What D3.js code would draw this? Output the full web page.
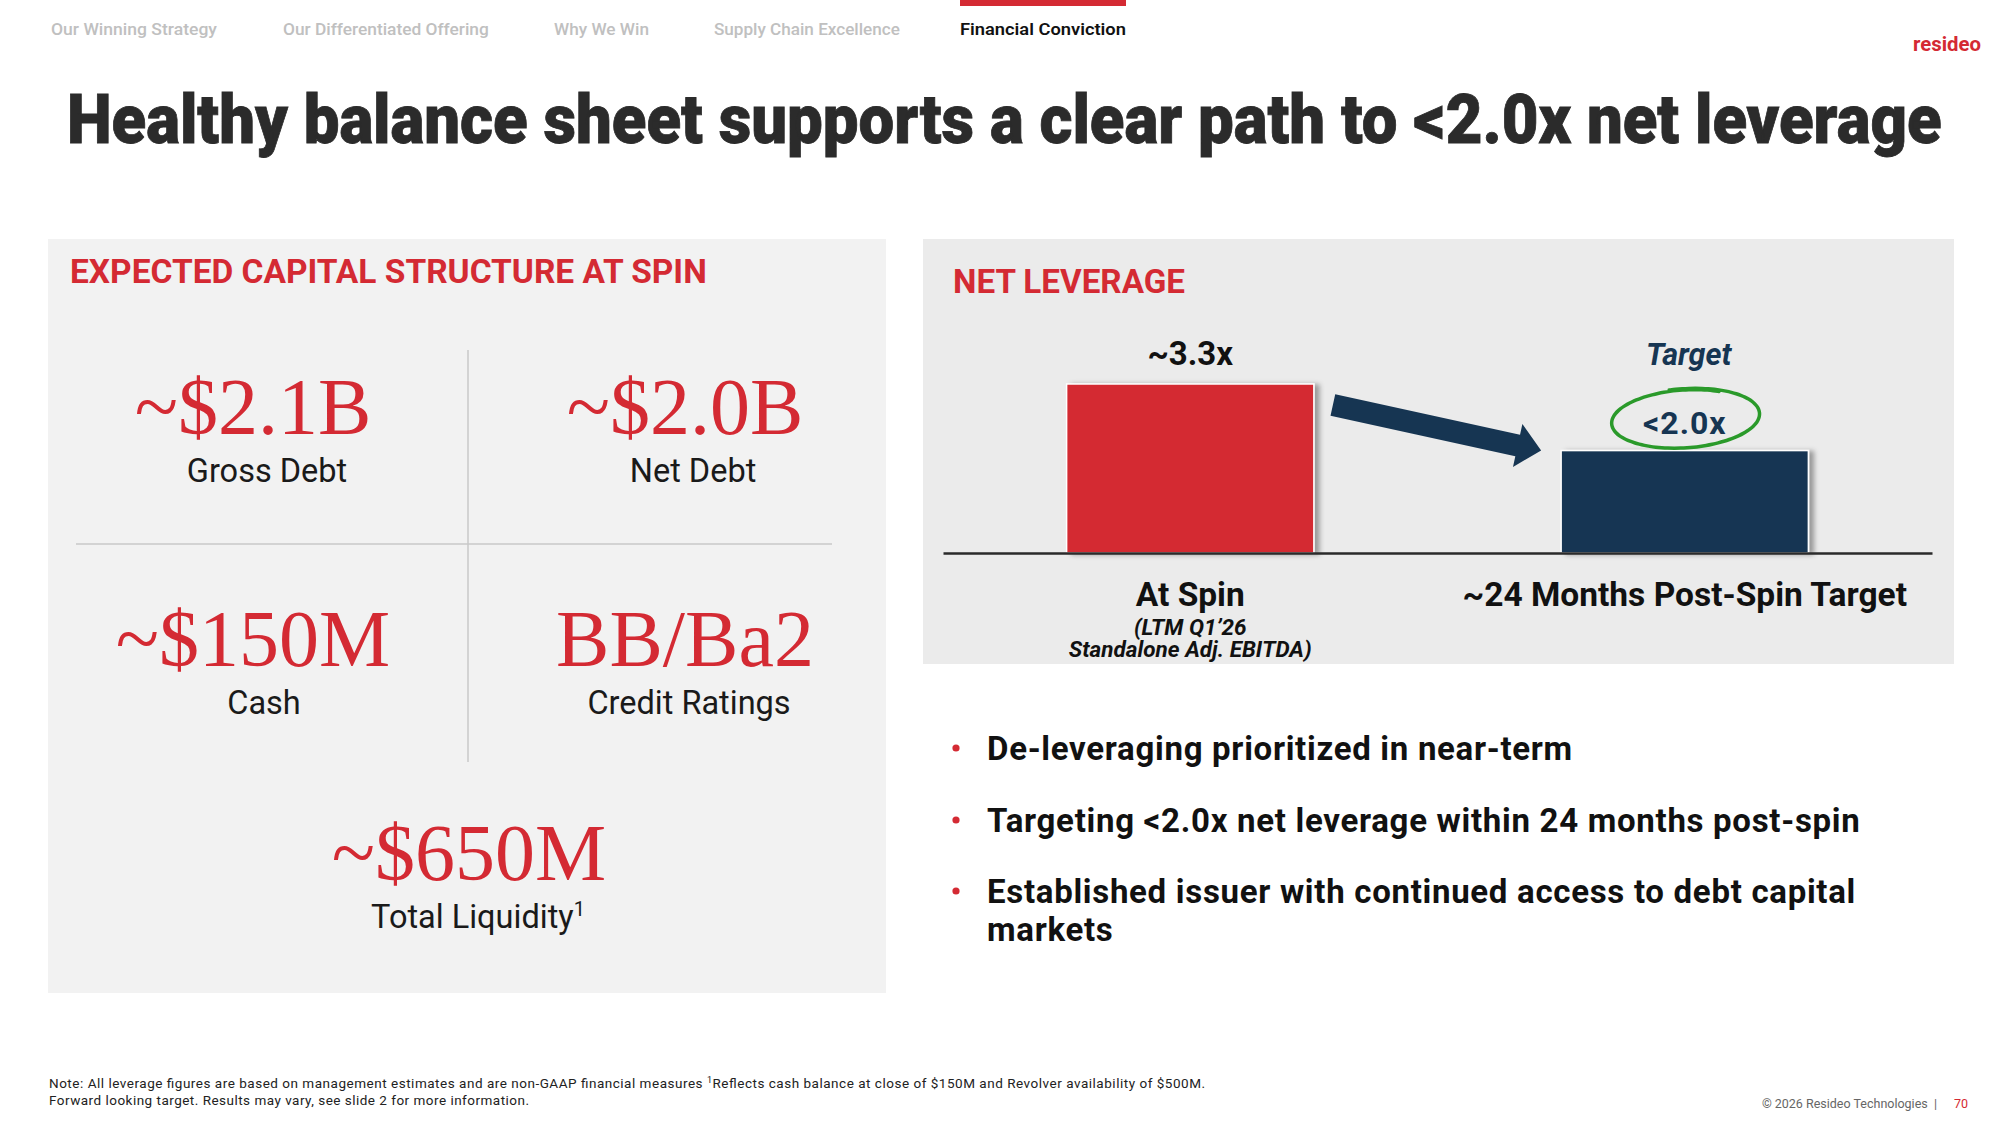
<!DOCTYPE html>
<html>
<head>
<meta charset="utf-8">
<script src="https://cdn.jsdelivr.net/npm/d3@7"></script>
<style>
  html, body { margin: 0; padding: 0; background: #ffffff; }
  svg { display: block; }
</style>
</head>
<body>
<div id="chart"></div>
<script>
// ---------- DATA ----------
const navItems = ["Our Winning Strategy", "Our Differentiated Offering", "Why We Win", "Supply Chain Excellence", "Financial Conviction"];
const activeNav = "Financial Conviction";
const titleText = "Healthy balance sheet supports a clear path to <2.0x net leverage";
const leftHeading = "EXPECTED CAPITAL STRUCTURE AT SPIN";
const rightHeading = "NET LEVERAGE";
const capValues = ["~$2.1B", "~$2.0B", "~$150M", "BB/Ba2", "~$650M"];
const capLabels = ["Gross Debt", "Net Debt", "Cash", "Credit Ratings", "Total Liquidity"];
const capFootnote = ["", "", "", "", "1"];
const leverageCategories = ["At Spin", "~24 Months Post-Spin Target"];
const leverageValues = [3.3, 2.0];
const leverageLabels = ["~3.3x", "<2.0x"];
const leverageSubLabels = [["(LTM Q1\u201926", "Standalone Adj. EBITDA)"], []];
const targetTag = "Target";
const bullets = [
  ["De-leveraging prioritized in near-term"],
  ["Targeting <2.0x net leverage within 24 months post-spin"],
  ["Established issuer with continued access to debt capital", "markets"]
];
const footNote1a = "Note: All leverage figures are based on management estimates and are non-GAAP financial measures ";
const footNote1b = "Reflects cash balance at close of $150M and Revolver availability of $500M.";
const footNote2 = "Forward looking target. Results may vary, see slide 2 for more information.";
const copyright = "\u00A9 2026 Resideo Technologies  |";
const pageNum = "70";

// ---------- STYLE ----------
const RED = "#d42a33";
const NAVY = "#163552";
const GREEN = "#2a9a2a";
const SANS = "Roboto, 'Noto Sans', sans-serif";
const SERIF = "'Liberation Serif', 'DejaVu Serif', serif";

const W = 2000, H = 1125;
const svg = d3.select("#chart").append("svg").attr("width", W).attr("height", H);

const defs = svg.append("defs");
const f = defs.append("filter").attr("id", "shadow").attr("x", "-10%").attr("y", "-10%").attr("width", "130%").attr("height", "120%");
f.append("feDropShadow").attr("dx", 5).attr("dy", 1).attr("stdDeviation", 2.5)
  .attr("flood-color", "#000").attr("flood-opacity", 0.35);

// fit a text horizontally to a target width with a scale transform
function fitText(sel, x0, y0, targetW) {
  sel.attr("x", 0).attr("y", 0);
  const w = sel.node().getComputedTextLength();
  sel.attr("transform", `translate(${x0},${y0}) scale(${targetW / w},1)`);
  return sel;
}

// ---------- NAV ----------
const navX = [51, 283, 554, 714, 960];
const navW = [166, 206, 95, 186, 166];
const nav = svg.append("g");
nav.selectAll("text").data(navItems).join("text")
  .attr("font-family", SANS).attr("font-size", 17)
  .attr("font-weight", d => d === activeNav ? 600 : 500)
  .attr("fill", d => d === activeNav ? "#111" : "#c0c0c0")
  .text(d => d)
  .each(function (d, i) { fitText(d3.select(this), navX[i], 35, navW[i]); });
const ai = navItems.indexOf(activeNav);
nav.append("rect").attr("x", navX[ai]).attr("y", 0).attr("width", navW[ai]).attr("height", 6).attr("fill", RED);

// logo
fitText(svg.append("text")
  .attr("font-family", SANS).attr("font-size", 21).attr("font-weight", 700)
  .attr("fill", RED).text("resideo"), 1913, 51, 68);

// ---------- TITLE ----------
fitText(svg.append("text")
  .attr("font-family", SANS).attr("font-size", 69).attr("font-weight", 900)
  .attr("fill", "#2b2b2b").attr("stroke", "#2b2b2b").attr("stroke-width", 0.8)
  .text(titleText), 67, 143, 1875);

// ---------- LEFT PANEL ----------
const L = svg.append("g");
L.append("rect").attr("x", 48).attr("y", 239).attr("width", 838).attr("height", 754).attr("fill", "#f2f2f2");
fitText(L.append("text")
  .attr("font-family", SANS).attr("font-size", 34).attr("font-weight", 700)
  .attr("fill", RED).text(leftHeading), 70, 283, 637);
L.append("line").attr("x1", 468).attr("x2", 468).attr("y1", 350).attr("y2", 762)
  .attr("stroke", "#c8c8c8").attr("stroke-width", 1.5);
L.append("line").attr("x1", 76).attr("x2", 832).attr("y1", 544).attr("y2", 544)
  .attr("stroke", "#c8c8c8").attr("stroke-width", 1.5);

const valCx = [253, 685, 253, 685, 469];
const labCx = [267, 693, 264, 689, 478];
const cellValY = [434, 434, 666, 666, 880];
const cellLabY = [482, 482, 714, 714, 928];
const cells = L.selectAll("g.cell").data(capValues).join("g").attr("class", "cell");
cells.append("text")
  .attr("x", (d, i) => valCx[i]).attr("y", (d, i) => cellValY[i])
  .attr("text-anchor", "middle")
  .attr("font-family", SERIF).attr("font-size", 80)
  .attr("fill", RED).text(d => d);
const labs = cells.append("text")
  .attr("x", (d, i) => labCx[i]).attr("y", (d, i) => cellLabY[i])
  .attr("text-anchor", "middle")
  .attr("font-family", SANS).attr("font-size", 32.5)
  .attr("fill", "#1a1a1a");
labs.append("tspan").text((d, i) => capLabels[i]);
labs.each(function (d, i) {
  if (capFootnote[i]) d3.select(this).append("tspan").attr("font-size", 20).attr("dy", -12).text(capFootnote[i]);
});

// ---------- RIGHT PANEL (chart) ----------
const R = svg.append("g");
R.append("rect").attr("x", 923).attr("y", 239).attr("width", 1031).attr("height", 425).attr("fill", "#ebebeb");
fitText(R.append("text")
  .attr("font-family", SANS).attr("font-size", 33).attr("font-weight", 700)
  .attr("fill", RED).text(rightHeading), 953, 293, 232);

const x = d3.scaleBand().domain(leverageCategories).range([943, 1932]).paddingInner(0.5).paddingOuter(0.25);
const y = d3.scaleLinear().domain([0, 3.3]).range([553, 384]);
const bw = x.bandwidth();
const barColors = [RED, NAVY];

R.selectAll("rect.bar").data(leverageValues).join("rect").attr("class", "bar")
  .attr("x", (d, i) => x(leverageCategories[i]))
  .attr("y", d => y(d))
  .attr("width", bw)
  .attr("height", d => y(0) - y(d))
  .attr("fill", (d, i) => barColors[i])
  .attr("stroke", "#ffffff").attr("stroke-width", 1.5)
  .attr("filter", "url(#shadow)");

// axis
const axis = R.append("g").attr("transform", `translate(0,${y(0)})`)
  .call(d3.axisBottom(x).tickSize(0).tickSizeOuter(0));
axis.select(".domain").attr("stroke", "#2a2a2a").attr("stroke-width", 2.5);
axis.selectAll(".tick text")
  .attr("y", 53).attr("dy", 0)
  .attr("font-family", SANS).attr("font-size", 33.5).attr("font-weight", 700)
  .attr("fill", "#111");

// sublabels
leverageSubLabels.forEach((lines, i) => {
  lines.forEach((t, j) => {
    R.append("text")
      .attr("x", x(leverageCategories[i]) + bw / 2)
      .attr("y", y(0) + 82 + j * 22)
      .attr("text-anchor", "middle")
      .attr("font-family", SANS).attr("font-size", 22.5).attr("font-weight", 700).attr("font-style", "italic")
      .attr("fill", "#111").text(t);
  });
});

// value labels
R.append("text")
  .attr("x", x(leverageCategories[0]) + bw / 2).attr("y", y(leverageValues[0]) - 19)
  .attr("text-anchor", "middle")
  .attr("font-family", SANS).attr("font-size", 33).attr("font-weight", 700)
  .attr("fill", "#111").text(leverageLabels[0]);

const c1 = x(leverageCategories[1]) + bw / 2;
R.append("text")
  .attr("x", c1).attr("y", y(leverageValues[1]) - 17)
  .attr("text-anchor", "middle")
  .attr("font-family", SANS).attr("font-size", 32).attr("font-weight", 700).attr("letter-spacing", 1)
  .attr("fill", NAVY).text(leverageLabels[1]);
R.append("text")
  .attr("x", c1 + 4).attr("y", y(leverageValues[1]) - 86)
  .attr("text-anchor", "middle")
  .attr("font-family", SANS).attr("font-size", 30.5).attr("font-weight", 700).attr("font-style", "italic")
  .attr("fill", NAVY).text(targetTag);

// hand-drawn green circle around target label
(function () {
  const cx = c1, cy = y(leverageValues[1]) - 32, rx = 76, ry = 30, rot = -4 * Math.PI / 180;
  const pts = [];
  const a0 = -1.75, a1 = a0 + 2 * Math.PI + 0.7;
  for (let k = 0; k <= 80; k++) {
    const a = a0 + (a1 - a0) * k / 80;
    const s = 1 - 0.05 * k / 80;
    const ex = rx * s * Math.cos(a), ey = ry * s * Math.sin(a);
    pts.push([cx + ex * Math.cos(rot) - ey * Math.sin(rot), cy + ex * Math.sin(rot) + ey * Math.cos(rot)]);
  }
  R.append("path").attr("d", d3.line().curve(d3.curveBasis)(pts))
    .attr("fill", "none").attr("stroke", GREEN).attr("stroke-width", 3.5).attr("stroke-linecap", "round");
})();

// arrow between bars
(function () {
  const sx = x(leverageCategories[0]) + bw + 19, sy = y(leverageValues[0]) + 21;
  const tx = x(leverageCategories[1]) - 20, ty = y(leverageValues[1]);
  const dx = tx - sx, dy = ty - sy, len = Math.hypot(dx, dy);
  const ux = dx / len, uy = dy / len, px = -uy, py = ux;
  const sh = 11, hh = 22, hl = 24;
  const P = (a, b) => [sx + ux * a + px * b, sy + uy * a + py * b];
  const poly = [P(0, -sh), P(len - hl, -sh), P(len - hl, -hh), P(len, 0), P(len - hl, hh), P(len - hl, sh), P(0, sh)];
  R.append("path").attr("d", "M" + poly.map(p => p.join(",")).join("L") + "Z").attr("fill", NAVY);
})();

// ---------- BULLETS ----------
const B = svg.append("g");
const bulletY = [760, 832, 903];
bullets.forEach((lines, i) => {
  B.append("circle").attr("cx", 956).attr("cy", bulletY[i] - 12).attr("r", 3.6).attr("fill", RED);
  const t = B.append("text").attr("x", 987).attr("y", bulletY[i])
    .attr("font-family", SANS).attr("font-size", 33).attr("font-weight", 700)
    .attr("letter-spacing", 0.7).attr("fill", "#111");
  lines.forEach((ln, j) => t.append("tspan").attr("x", 987).attr("dy", j === 0 ? 0 : 38).text(ln));
});

// ---------- FOOTER ----------
const F = svg.append("g").attr("font-family", SANS).attr("fill", "#222");
const n1 = F.append("text").attr("x", 49).attr("y", 1088).attr("font-size", 13.5)
  .attr("textLength", 1156).attr("lengthAdjust", "spacing");
n1.append("tspan").text(footNote1a);
n1.append("tspan").attr("font-size", 9).attr("dy", -5).text("1");
n1.append("tspan").attr("dy", 5).text(footNote1b);
F.append("text").attr("x", 49).attr("y", 1105).attr("font-size", 13.5)
  .attr("textLength", 480).attr("lengthAdjust", "spacing").text(footNote2);
F.append("text").attr("x", 1937).attr("y", 1108).attr("text-anchor", "end")
  .attr("font-size", 12.5).attr("fill", "#666").attr("xml:space", "preserve").text(copyright);
F.append("text").attr("x", 1968).attr("y", 1108).attr("text-anchor", "end")
  .attr("font-size", 12.5).attr("fill", RED).text(pageNum);
</script>
</body>
</html>
